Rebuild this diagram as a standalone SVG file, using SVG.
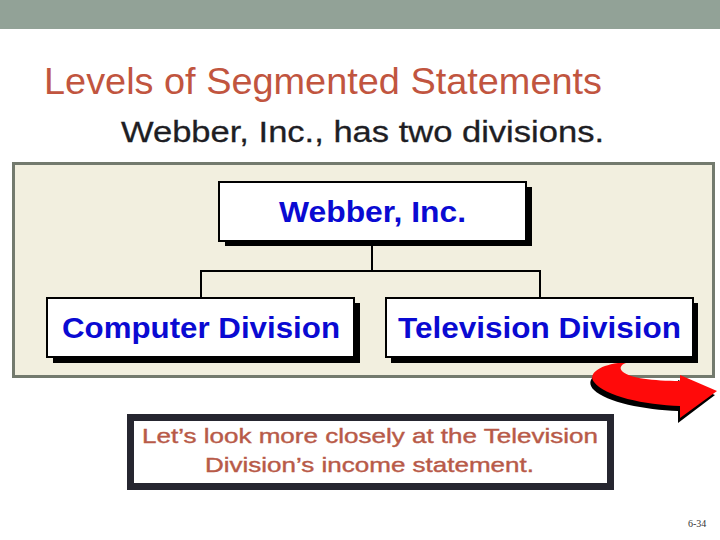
<svg xmlns="http://www.w3.org/2000/svg" width="720" height="540" viewBox="0 0 720 540">
<defs>
<style>
.node{fill:#ffffff;stroke:#000000;stroke-width:2}
.shadow{fill:#000000}
.ntext{font-family:"Liberation Sans",Arial,sans-serif;font-weight:bold;fill:#0a0ad2;font-size:29px}
.conn{fill:none;stroke:#000000;stroke-width:2}
.ctext{font-family:"Liberation Sans",Arial,sans-serif;font-size:21px;fill:#b85a48;stroke:#b85a48;stroke-width:0.4}
</style>
</defs>
<rect x="0" y="0" width="720" height="29" fill="#92a297"/>
<rect x="0" y="29" width="720" height="511" fill="#ffffff"/>
<text x="44" y="94" font-family="'Liberation Sans',Arial,sans-serif" font-size="37" fill="#c1553f" textLength="558" lengthAdjust="spacingAndGlyphs">Levels of Segmented Statements</text>
<text x="121" y="142" font-family="'Liberation Sans',Arial,sans-serif" font-size="30" fill="#1e1e24" stroke="#1e1e24" stroke-width="0.3" textLength="483" lengthAdjust="spacingAndGlyphs">Webber, Inc., has two divisions.</text>
<rect x="13.5" y="163.5" width="700" height="213" fill="#f2efdf" stroke="#737a6e" stroke-width="3"/>
<g id="connectors">
<path class="conn" d="M372,242 V271 M201,271 H540 M201,270 V298 M540,270 V298"/>
</g>
<g id="webber">
<rect class="shadow" x="225" y="187" width="307" height="59"/>
<rect class="node" x="219" y="182" width="307" height="59"/>
<text class="ntext" x="372.5" y="222" text-anchor="middle" textLength="187" lengthAdjust="spacingAndGlyphs">Webber, Inc.</text>
</g>
<g id="computer">
<rect class="shadow" x="53" y="303" width="307" height="60"/>
<rect class="node" x="47" y="298" width="307" height="59"/>
<text class="ntext" x="62" y="338" textLength="278" lengthAdjust="spacingAndGlyphs">Computer Division</text>
</g>
<g id="television">
<rect class="shadow" x="391" y="303" width="307" height="60"/>
<rect class="node" x="386" y="298" width="307" height="59"/>
<text class="ntext" x="398" y="338" textLength="283" lengthAdjust="spacingAndGlyphs">Television Division</text>
</g>
<g id="arrow">
<path d="M615,368 C596,371 584,380 594,390 C606,402 645,410 678,411 L678,423 L715,395 L678,380 L678,386 C650,386 628,382 621,376 Z" fill="#000000"/>
<path d="M618,363 C598,366 588,374 594,382 C604,396 645,405 680,406 L680,418 L717,391 L680,375 L680,381 C653,381 630,378 623,372 C619,369 620,365 626,363 Z" fill="#ff0a0a"/>
</g>
<g id="callout">
<rect x="130.5" y="417.5" width="480" height="69" fill="#ffffff" stroke="#262630" stroke-width="7"/>
<text class="ctext" x="370" y="443" text-anchor="middle" textLength="456" lengthAdjust="spacingAndGlyphs">Let’s look more closely at the Television</text>
<text class="ctext" x="369.5" y="472" text-anchor="middle" textLength="329" lengthAdjust="spacingAndGlyphs">Division’s income statement.</text>
</g>
<text x="688" y="527" font-family="'Liberation Serif','Times New Roman',serif" font-size="10" fill="#333333">6-34</text>
</svg>
